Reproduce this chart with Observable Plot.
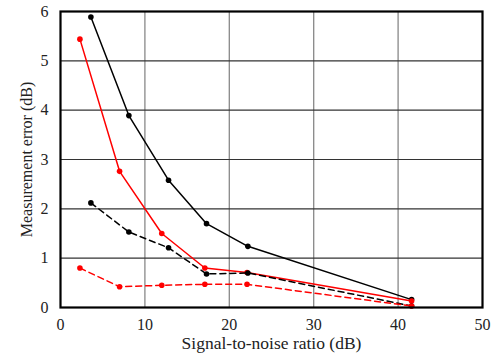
<!DOCTYPE html>
<html>
<head>
<meta charset="utf-8">
<script src="https://cdn.jsdelivr.net/npm/d3@7"></script>
<script src="https://cdn.jsdelivr.net/npm/@observablehq/plot@0.6"></script>
<style>
  html, body { margin: 0; padding: 0; background: #fff; }
  svg, svg text { font-family: "Liberation Serif", "Times New Roman", serif !important; }
</style>
</head>
<body>
<div id="chart"></div>
<script>
const snrBlack = [3.6, 8.1, 12.8, 17.3, 22.2, 41.6];
const snrRed = [2.3, 7.0, 12.0, 17.1, 22.1, 41.6];
const blackSolid = [5.89, 3.89, 2.58, 1.70, 1.24, 0.16];
const redSolid = [5.44, 2.76, 1.50, 0.80, 0.71, 0.13];
const blackDashed = [2.12, 1.53, 1.21, 0.68, 0.70, 0.03];
const redDashed = [0.80, 0.42, 0.45, 0.47, 0.47, 0.03];
const xTicks = [0, 10, 20, 30, 40, 50];
const yTicks = [0, 1, 2, 3, 4, 5, 6];
const xTitle = "Signal-to-noise ratio (dB)";
const yTitle = "Measurement error (dB)";

const series = [
  {x: snrBlack, y: blackSolid, color: "#000000", dash: null},
  {x: snrRed, y: redSolid, color: "#ff0000", dash: null},
  {x: snrBlack, y: blackDashed, color: "#000000", dash: "6,4"},
  {x: snrRed, y: redDashed, color: "#ff0000", dash: "6,4"}
];

const serif = "'Liberation Serif', 'Times New Roman', serif";
const marks = [
  Plot.gridX([10, 20, 30, 40], {stroke: "#888", strokeOpacity: 1, strokeWidth: 1.3}),
  Plot.gridY([1, 2, 3, 4, 5], {stroke: "#333", strokeOpacity: 1, strokeWidth: 1.1})
];
for (const s of series) {
  const data = s.x.map((x, i) => ({x, y: s.y[i]}));
  marks.push(Plot.line(data, {x: "x", y: "y", stroke: s.color, strokeWidth: 1.5, strokeDasharray: s.dash, clip: true}));
  marks.push(Plot.dot(data, {x: "x", y: "y", fill: s.color, r: 2.8, stroke: "none"}));
}
marks.push(Plot.frame({stroke: "#000", strokeWidth: 2.2}));
marks.push(Plot.axisX(xTicks, {tickSize: 0, tickPadding: 11, fontSize: 16, fontFamily: serif, label: null}));
marks.push(Plot.axisY(yTicks, {tickSize: 0, tickPadding: 12, fontSize: 16, fontFamily: serif, label: null}));
marks.push(Plot.axisX([], {tickSize: 0, fontSize: 17.5, fontFamily: serif, label: xTitle, labelAnchor: "center", labelArrow: "none", labelOffset: 41}));
marks.push(Plot.axisY([], {tickSize: 0, fontSize: 16, fontFamily: serif, label: yTitle, labelAnchor: "center", labelArrow: "none", labelOffset: 40}));

const chart = Plot.plot({
  width: 496,
  height: 358,
  marginLeft: 60,
  marginRight: 14,
  marginTop: 11,
  marginBottom: 51,
  x: {domain: [0, 50]},
  y: {domain: [0, 6]},
  style: {fontFamily: serif, fontSize: "16px", color: "#222", background: "#fff"},
  marks
});
document.getElementById("chart").appendChild(chart);
</script>
</body>
</html>
